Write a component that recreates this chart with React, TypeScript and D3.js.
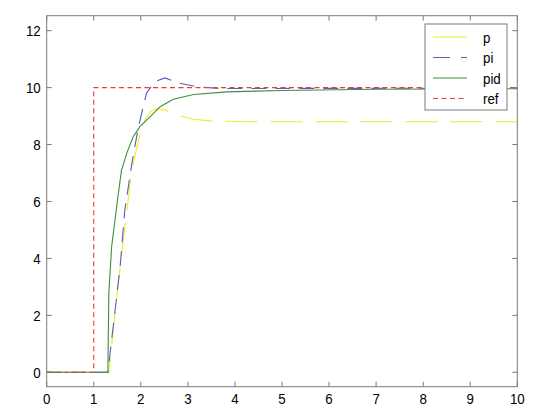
import React from "react";
import * as d3 from "d3";

const refT = [0, 1, 1, 10];
const refV = [0, 0, 10, 10];

const pT = [0, 1.32, 1.52, 1.66, 1.81, 1.95, 2.09, 2.2, 2.34, 2.51, 2.76, 3.12, 3.47, 4.2, 10];
const pV = [0, 0, 3.13, 5.11, 7.11, 8.16, 8.86, 9.15, 9.27, 9.21, 9.04, 8.89, 8.83, 8.8, 8.8];

const piT = [0, 1.3, 1.56, 1.66, 1.81, 1.95, 2.12, 2.3, 2.51, 2.83, 3.19, 3.68, 4.5, 10];
const piV = [0, 0, 3.71, 5.7, 7.34, 8.63, 9.8, 10.21, 10.34, 10.15, 10.03, 9.97, 9.97, 9.98];

const pidT = [0, 1.3, 1.32, 1.38, 1.5, 1.59, 1.61, 1.7, 1.84, 1.98, 2.2, 2.41, 2.69, 3.12, 3.82, 5, 7, 10];
const pidV = [0, 0, 2.79, 4.41, 6.0, 7.11, 7.2, 7.69, 8.28, 8.63, 8.98, 9.33, 9.59, 9.76, 9.85, 9.9, 9.94, 9.96];

const xTicks = [0, 1, 2, 3, 4, 5, 6, 7, 8, 9, 10];
const yTicks = [0, 2, 4, 6, 8, 10, 12];

const legendLabels = ["p", "pi", "pid", "ref"];

export default function App() {
  const W = 560, H = 420;
  const L = 46.7, R = 517.3, T = 15.7, B = 386.7;
  const x = d3.scaleLinear().domain([0, 10]).range([L, R]);
  const y0 = 372.3, k = 28.47;
  const y = d3.scaleLinear().domain([-(B - y0) / k, (y0 - T) / k]).range([B, T]);
  const mk = (ts: number[], vs: number[]) =>
    d3.line<number>().x((_, i) => x(ts[i])).y((v) => y(v))(vs) || "";

  const series = [
    { d: mk(pT, pV), color: "#ecec2a", dash: "32,13" },
    { d: mk(piT, piV), color: "#5a5ac8", dash: "15,9" },
    { d: mk(pidT, pidV), color: "#3f8f3f", dash: "" },
    { d: mk(refT, refV), color: "#e23c3c", dash: "5,3.5" },
  ];
  const legendDash = ["", "17,11", "", "5,3.5"];
  const axisColor = "#7a7a7a";
  const font = "Liberation Sans, Arial, sans-serif";
  const sx = 0.86;

  const Label = ({ px, py, anchor, children }: { px: number; py: number; anchor: string; children: React.ReactNode }) => (
    <text
      transform={`translate(${px},${py}) scale(${sx},1)`}
      textAnchor={anchor as any}
      fontFamily={font}
      fontSize={15.5}
      fill="#000"
    >
      {children}
    </text>
  );

  return (
    <svg width={W} height={H} style={{ position: "absolute", left: 0, top: 0, background: "#fff" }}>
      <rect x={0} y={0} width={W} height={H} fill="#fff" />
      {series.map((s, i) => (
        <path key={i} d={s.d} fill="none" stroke={s.color} strokeWidth={1.1} strokeDasharray={s.dash} />
      ))}
      <rect x={L} y={T} width={R - L} height={B - T} fill="none" stroke={axisColor} strokeWidth={1} />
      {xTicks.map((t) => (
        <g key={"x" + t}>
          <line x1={x(t)} x2={x(t)} y1={B} y2={B - 5} stroke={axisColor} />
          <line x1={x(t)} x2={x(t)} y1={T} y2={T + 5} stroke={axisColor} />
          <Label px={x(t)} py={403.5} anchor="middle">{t}</Label>
        </g>
      ))}
      {yTicks.map((t) => (
        <g key={"y" + t}>
          <line x1={L} x2={L + 5} y1={y(t)} y2={y(t)} stroke={axisColor} />
          <line x1={R} x2={R - 5} y1={y(t)} y2={y(t)} stroke={axisColor} />
          <Label px={40.7} py={y(t) + 5.5} anchor="end">{t}</Label>
        </g>
      ))}
      <rect x={425} y={24} width={82} height={86} fill="#fff" stroke={axisColor} strokeWidth={1} />
      {legendLabels.map((lab, i) => {
        const ly = 37 + i * 20.5;
        return (
          <g key={lab}>
            <line x1={433} x2={467} y1={ly} y2={ly} stroke={series[i].color} strokeWidth={1.1} strokeDasharray={legendDash[i]} />
            <Label px={483} py={ly + 5.5} anchor="start">{lab}</Label>
          </g>
        );
      })}
    </svg>
  );
}
